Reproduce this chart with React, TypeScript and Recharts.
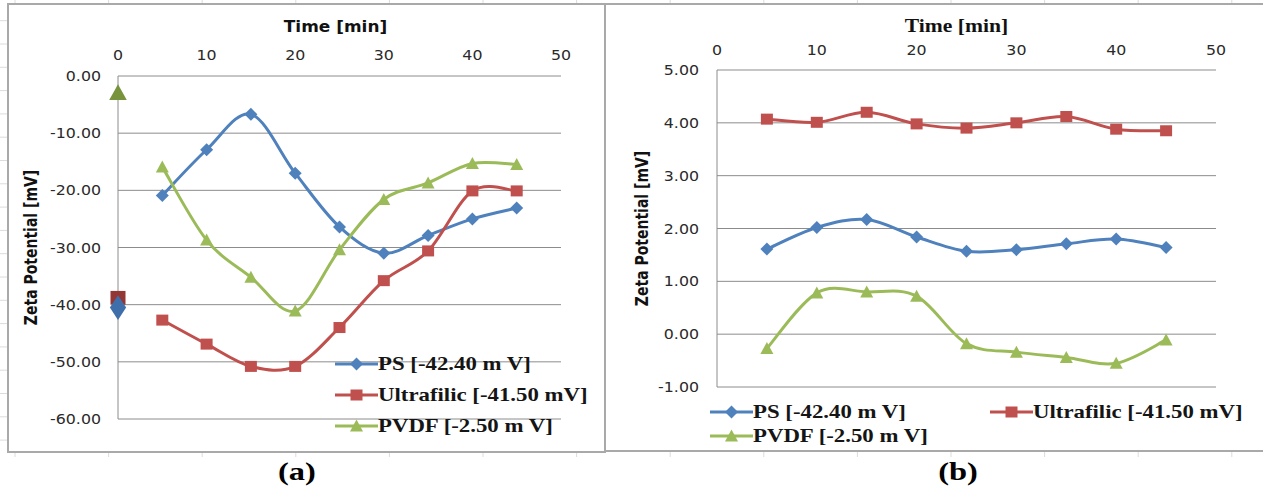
import { LineChart, Line, XAxis, YAxis, CartesianGrid, Legend } from 'recharts'

// time axis (min)
const timesA = [0, 5, 10, 15, 20, 25, 30, 35, 40, 45]
const timesB = [5, 10, 15, 20, 25, 30, 35, 40, 45]
const xTicks = [0, 10, 20, 30, 40, 50]

// (a) isolated markers at t = 0
const psStartA = -40.5
const ultraStartA = -38.8
const pvdfStartA = -2.9

// (a) series, t = 0 has no connected point
const psA = [null, -20.9, -12.9, -6.7, -17.0, -26.4, -31.0, -27.9, -25.0, -23.1]
const ultraA = [null, -42.7, -46.9, -50.8, -50.8, -44.0, -35.8, -30.6, -20.1, -20.1]
const pvdfA = [null, -15.9, -28.7, -35.2, -41.1, -30.4, -21.6, -18.7, -15.3, -15.5]
const yTicksA = [0, -10, -20, -30, -40, -50, -60]

// (b) series
const psB = [1.61, 2.02, 2.17, 1.84, 1.57, 1.6, 1.71, 1.8, 1.64]
const ultraB = [4.07, 4.01, 4.2, 3.98, 3.9, 4.0, 4.12, 3.88, 3.85]
const pvdfB = [-0.27, 0.78, 0.8, 0.72, -0.18, -0.34, -0.44, -0.55, -0.11]
const yTicksB = [-1, 0, 1, 2, 3, 4, 5]

const seriesOrder = ['ps', 'ultra', 'pvdf']
const seriesNames = {
  ps: 'PS [-42.40 m V]',
  ultra: 'Ultrafilic [-41.50 mV]',
  pvdf: 'PVDF [-2.50 m V]',
}

const colors = { ps: '#4F81BD', ultra: '#C0504D', pvdf: '#9BBB59' }
const darkColors = { ps: '#3F6FAA', ultra: '#943634', pvdf: '#77933C' }
const shapes = { ps: 'diamond', ultra: 'square', pvdf: 'triangle' }

const dataA = timesA.map((t, i) => ({
  t,
  ps: psA[i],
  ultra: ultraA[i],
  pvdf: pvdfA[i],
  psStart: i === 0 ? psStartA : null,
  ultraStart: i === 0 ? ultraStartA : null,
  pvdfStart: i === 0 ? pvdfStartA : null,
}))

const dataB = timesB.map((t, i) => ({ t, ps: psB[i], ultra: ultraB[i], pvdf: pvdfB[i] }))

// Excel-style smoothed line (catmull-rom bezier)
const excelSmooth = (context: any) => {
  let pts: number[][] = []
  return {
    areaStart() {},
    areaEnd() {},
    lineStart() {
      pts = []
    },
    point(x: number, y: number) {
      pts.push([+x, +y])
    },
    lineEnd() {
      if (!pts.length) return
      context.moveTo(pts[0][0], pts[0][1])
      for (let i = 0; i < pts.length - 1; i++) {
        const p0 = pts[i - 1] || pts[i]
        const p1 = pts[i]
        const p2 = pts[i + 1]
        const p3 = pts[i + 2] || p2
        context.bezierCurveTo(
          p1[0] + (p2[0] - p0[0]) / 6,
          p1[1] + (p2[1] - p0[1]) / 6,
          p2[0] - (p3[0] - p1[0]) / 6,
          p2[1] - (p3[1] - p1[1]) / 6,
          p2[0],
          p2[1]
        )
      }
    },
  }
}

function markerShape(shape: string, cx: number, cy: number, fill: string, key?: string, scale = 1) {
  if (shape === 'diamond') {
    const w = 6.5 * scale
    const h = 6.5 * (scale > 1 ? 1.9 : 1)
    return <path key={key} d={`M${cx},${cy - h}L${cx + w},${cy}L${cx},${cy + h}L${cx - w},${cy}Z`} fill={fill} />
  }
  if (shape === 'square') {
    const w = 6 * scale
    const h = 5.5 * scale
    return <rect key={key} x={cx - w} y={cy - h} width={2 * w} height={2 * h} fill={fill} />
  }
  const w = 6.5 * scale
  const h = 5.5 * scale
  return <path key={key} d={`M${cx},${cy - h - 1}L${cx + w},${cy + h}L${cx - w},${cy + h}Z`} fill={fill} />
}

const makeDot = (shape: string, fill: string, scale = 1) => (p: any) => {
  if (p.cy == null || p.value == null || p.cx == null) return <g key={`e-${p.index}`} />
  return markerShape(shape, p.cx, p.cy, fill, `d-${p.index}`, scale)
}

const YTick = ({ x, y, payload }: any) => (
  <g transform={`translate(${x},${y})`}>
    <text transform="scale(1.13,1)" textAnchor="end" dy="0.36em" fontFamily="DejaVu Sans" fontSize={14} fill="#2a2a2a">
      {Number(payload.value).toFixed(2)}
    </text>
  </g>
)

const XTick = ({ x, y, payload }: any) => (
  <g transform={`translate(${x},${y})`}>
    <text transform="scale(1.13,1)" textAnchor="middle" fontFamily="DejaVu Sans" fontSize={14} fill="#2a2a2a">
      {payload.value}
    </text>
  </g>
)

const LegendRows = ({ payload, grid }: any) => {
  const items = (payload || [])
    .filter((e: any) => e.type !== 'none' && seriesOrder.includes(e.dataKey))
    .sort((a: any, b: any) => seriesOrder.indexOf(a.dataKey) - seriesOrder.indexOf(b.dataKey))
  return (
    <div
      style={
        grid
          ? { display: 'grid', gridTemplateColumns: '280px 280px' }
          : { display: 'flex', flexDirection: 'column' }
      }
    >
      {items.map((e: any) => (
        <div key={e.dataKey} style={{ display: 'flex', alignItems: 'center', height: grid ? 24 : 31 }}>
          <svg width={43} height={16} style={{ flex: 'none' }}>
            <line x1={0} y1={8} x2={43} y2={8} stroke={colors[e.dataKey as keyof typeof colors]} strokeWidth={3} />
            {markerShape(shapes[e.dataKey as keyof typeof shapes], 21.5, 8, colors[e.dataKey as keyof typeof colors])}
          </svg>
          <span
            style={{
              display: 'inline-block',
              whiteSpace: 'nowrap',
              fontFamily: '"Liberation Serif", serif',
              fontWeight: 'bold',
              fontSize: 19,
              color: '#151515',
              transform: 'scaleX(1.2)',
              transformOrigin: 'left center',
            }}
          >
            {e.value}
          </span>
        </div>
      ))}
    </div>
  )
}

const xTitle = (font: string, size: number, stretch: number, dx: number, dy: number) => (props: any) => {
  const vb = props.viewBox
  return (
    <g transform={`translate(${vb.x + vb.width / 2 + dx},${vb.y + dy}) scale(${stretch},1)`}>
      <text textAnchor="middle" fontFamily={font} fontWeight="bold" fontSize={size} fill="#111">
        Time [min]
      </text>
    </g>
  )
}

const yTitle = (dx: number) => (props: any) => {
  const vb = props.viewBox
  return (
    <g transform={`translate(${vb.x + dx},${vb.y + vb.height / 2}) scale(1.3,1) rotate(-90)`}>
      <text textAnchor="middle" fontFamily="DejaVu Sans" fontWeight="bold" fontSize={14} fill="#111">
        Zeta Potential [mV]
      </text>
    </g>
  )
}

const sheetCols = Array.from({ length: 14 }, (_, k) => 15 + 93.6 * k)
const sheetRows = Array.from({ length: 20 }, (_, k) => 20.7 + 23.3 * k)

export default function App() {
  return (
    <div style={{ position: 'absolute', left: 0, top: 0, width: 1263, height: 491, background: '#fff', overflow: 'hidden' }}>
      <svg width={1263} height={491} style={{ position: 'absolute', left: 0, top: 0 }}>
        {sheetCols.map((x) => (
          <line key={`c${x}`} x1={x} y1={0} x2={x} y2={457} stroke="#dcdcdc" />
        ))}
        {sheetRows.map((y) => (
          <line key={`r${y}`} x1={0} y1={y} x2={1263} y2={y} stroke="#dcdcdc" />
        ))}
        <rect x={0} y={458} width={1263} height={33} fill="#fff" />
        <g transform="translate(297,480) scale(1.25,1)">
          <text textAnchor="middle" fontFamily="Liberation Serif" fontWeight="bold" fontSize={26} fill="#000">
            (a)
          </text>
        </g>
        <g transform="translate(958,480) scale(1.25,1)">
          <text textAnchor="middle" fontFamily="Liberation Serif" fontWeight="bold" fontSize={26} fill="#000">
            (b)
          </text>
        </g>
      </svg>

      <div style={{ position: 'absolute', left: 7, top: 3, width: 599, height: 450, border: '2px solid #a9a9a9', boxSizing: 'border-box', background: '#fff' }} />
      <div style={{ position: 'absolute', left: 604, top: 3, width: 700, height: 449, border: '2px solid #a9a9a9', boxSizing: 'border-box', background: '#fff' }} />

      {/* (a) */}
      <div style={{ position: 'absolute', left: 0, top: 0 }}>
        <LineChart width={606} height={460} data={dataA} margin={{ top: 46, right: 45, bottom: 41, left: 18 }}>
          <CartesianGrid vertical={false} stroke="#8c8c8c" />
          <XAxis
            dataKey="t"
            type="number"
            orientation="top"
            domain={[0, 50]}
            ticks={xTicks}
            height={30}
            axisLine={false}
            tickLine={false}
            tickMargin={10}
            tick={<XTick />}
            label={{ content: xTitle('DejaVu Sans', 15, 1.13, -4, -14.5) }}
          />
          <YAxis
            type="number"
            domain={[-60, 0]}
            ticks={yTicksA}
            width={100}
            axisLine={{ stroke: '#8c8c8c' }}
            tickLine={false}
            tickMargin={11}
            tick={<YTick />}
            label={{ content: yTitle(19) }}
          />
          <Line dataKey="ps" name={seriesNames.ps} type={excelSmooth as any} stroke={colors.ps} strokeWidth={3} dot={makeDot('diamond', colors.ps)} activeDot={false} isAnimationActive={false} />
          <Line dataKey="ultra" name={seriesNames.ultra} type={excelSmooth as any} stroke={colors.ultra} strokeWidth={3} dot={makeDot('square', colors.ultra)} activeDot={false} isAnimationActive={false} />
          <Line dataKey="pvdf" name={seriesNames.pvdf} type={excelSmooth as any} stroke={colors.pvdf} strokeWidth={3} dot={makeDot('triangle', colors.pvdf)} activeDot={false} isAnimationActive={false} />
          <Line dataKey="pvdfStart" legendType="none" stroke="none" dot={makeDot('triangle', darkColors.pvdf, 1.35)} activeDot={false} isAnimationActive={false} />
          <Line dataKey="ultraStart" legendType="none" stroke="none" dot={makeDot('square', darkColors.ultra, 1.25)} activeDot={false} isAnimationActive={false} />
          <Line dataKey="psStart" legendType="none" stroke="none" dot={makeDot('diamond', darkColors.ps, 1.25)} activeDot={false} isAnimationActive={false} />
          <Legend
            layout="vertical"
            align="center"
            verticalAlign="middle"
            wrapperStyle={{ left: 335, top: 348, width: 300 }}
            content={<LegendRows />}
          />
        </LineChart>
      </div>

      {/* (b) */}
      <div style={{ position: 'absolute', left: 606, top: 0 }}>
        <LineChart width={657} height={460} data={dataB} margin={{ top: 40, right: 47, bottom: 73, left: 11 }}>
          <CartesianGrid vertical={false} stroke="#8c8c8c" />
          <XAxis
            dataKey="t"
            type="number"
            orientation="top"
            domain={[0, 50]}
            ticks={xTicks}
            height={30}
            axisLine={false}
            tickLine={false}
            tickMargin={9}
            tick={<XTick />}
            label={{ content: xTitle('Liberation Serif', 18, 1.2, -10, -8) }}
          />
          <YAxis
            type="number"
            domain={[-1, 5]}
            ticks={yTicksB}
            width={100}
            axisLine={{ stroke: '#8c8c8c' }}
            tickLine={false}
            tickMargin={12}
            tick={<YTick />}
            label={{ content: yTitle(31) }}
          />
          <Line dataKey="ps" name={seriesNames.ps} type={excelSmooth as any} stroke={colors.ps} strokeWidth={3} dot={makeDot('diamond', colors.ps)} activeDot={false} isAnimationActive={false} />
          <Line dataKey="ultra" name={seriesNames.ultra} type={excelSmooth as any} stroke={colors.ultra} strokeWidth={3} dot={makeDot('square', colors.ultra)} activeDot={false} isAnimationActive={false} />
          <Line dataKey="pvdf" name={seriesNames.pvdf} type={excelSmooth as any} stroke={colors.pvdf} strokeWidth={3} dot={makeDot('triangle', colors.pvdf)} activeDot={false} isAnimationActive={false} />
          <Legend
            layout="vertical"
            align="center"
            verticalAlign="middle"
            wrapperStyle={{ left: 104, top: 400, width: 560 }}
            content={<LegendRows grid />}
          />
        </LineChart>
      </div>
    </div>
  )
}
